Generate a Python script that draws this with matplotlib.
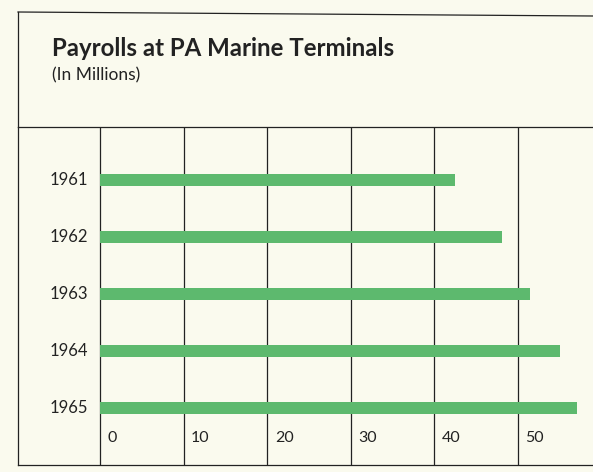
import matplotlib
matplotlib.use("Agg")
import matplotlib.pyplot as plt
from matplotlib.lines import Line2D

years = ["1961", "1962", "1963", "1964", "1965"]
payrolls = [42.5, 48.1, 51.4, 55.0, 57.1]
ticks = [0, 10, 20, 30, 40, 50]

bg = "#FAFAEE"
green = "#5DB96E"
ink = "#222222"
plt.rcParams['font.family'] = ['Lato', 'DejaVu Sans']

W, H = 593, 472
fig = plt.figure(figsize=(W / 100, H / 100), dpi=100, facecolor=bg)

# data axes: x from 18px to 593px, y from 127px to 465px
ax = fig.add_axes([18 / W, 1 - 465 / H, (W - 18) / W, (465 - 127) / H])
ax.set_facecolor(bg)
px_per_unit = 8.36
ax.set_xlim(-(100 - 18) / px_per_unit, (W - 100) / px_per_unit)
spacing = 57.0
ax.set_ylim((465 - 180) / spacing, (127 - 180) / spacing)

ypos = list(range(len(years)))
ax.barh(ypos, payrolls, height=0.2, color=green, zorder=2)

for t in ticks:
    ax.axvline(t, color=ink, lw=0.9, zorder=1)
    ax.text(t + 0.9, 4.52, str(t), ha="left", va="center", fontsize=11.5, color=ink)

for y, lab in zip(ypos, years):
    ax.text(-1.4, y, lab, ha="right", va="center", fontsize=12, color=ink)

for s in ["right"]:
    ax.spines[s].set_visible(False)
for s in ["left", "top", "bottom"]:
    ax.spines[s].set_color(ink)
    ax.spines[s].set_linewidth(0.9)
ax.set_xticks([])
ax.set_yticks([])

# header frame
fig.add_artist(Line2D([18 / W, 1], [1 - 12 / H, 1 - 16 / H], color=ink, lw=0.9))
fig.add_artist(Line2D([18 / W, 18 / W], [1 - 12 / H, 1 - 127 / H], color=ink, lw=0.9))

fig.text(52 / W, 1 - 48 / H, "Payrolls at PA Marine Terminals", ha="left", va="center",
         fontsize=17.3, fontweight="bold", color=ink)
fig.text(52 / W, 1 - 75 / H, "(In Millions)", ha="left", va="center", fontsize=12.5, color=ink)

fig.savefig("out.png", dpi=100, facecolor=bg)
